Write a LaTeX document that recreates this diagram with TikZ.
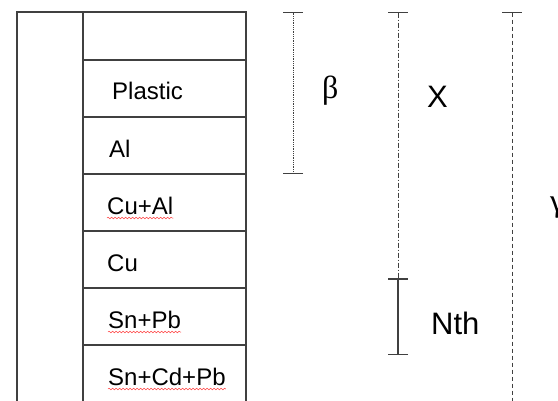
\documentclass[tikz,border=0pt]{standalone}
\usepackage{fontspec}
\setmainfont{Liberation Sans}
\newfontfamily\greekfont{Liberation Serif}
\usetikzlibrary{arrows.meta,decorations.pathmorphing}
\begin{document}
\begin{tikzpicture}[x=1pt, y=-1pt,
  layer/.style={anchor=base west, inner sep=0pt, font=\fontsize{24}{24}\selectfont},
  big/.style={anchor=base west, inner sep=0pt, font=\fontsize{31}{31}\selectfont},
  greek/.style={anchor=base west, inner sep=0pt, font=\greekfont\fontsize{32}{32}\selectfont},
  wall/.style={draw=black!75, line width=1.2pt},
  bar/.style={draw=black!75, line width=0.8pt, {Bar[width=20pt]}-{Bar[width=20pt]}},
  typo/.style={draw=red!75, line width=0.5pt, decorate,
    decoration={snake, amplitude=0.8pt, segment length=3.5pt}}]
\useasboundingbox (0,0) rectangle (558,400);
\clip (0,0) rectangle (558,400);
% stack
\draw[wall] (17,410)--(17,12)--(246,12)--(246,410);
\draw[wall] (83,12)--(83,410);
\foreach \y in {60,117,174,231,288,345}
{
    \draw[wall] (83,\y)--(246,\y);
}
\node[layer] (plastic) at (112,99){Plastic};
\node[layer] (al) at (109,157){Al};
\node[layer] (cual) at (107,214){Cu+Al};
\node[layer] (cu) at (107,271){Cu};
\node[layer] (snpb) at (108,328){Sn+Pb};
\node[layer] (sncdpb) at (108,385){Sn+Cd+Pb};
\draw[typo] ([yshift=-4pt]cual.base west)--([yshift=-4pt]cual.base east);
\draw[typo] ([yshift=-4pt]snpb.base west)--([yshift=-4pt]snpb.base east);
\draw[typo] ([yshift=-4pt]sncdpb.base west)--([yshift=-4pt]sncdpb.base east);
% ranges
\coordinate (btop) at (293,12);
\coordinate (bbot) at (293,174);
\coordinate (xtop) at (398,12);
\coordinate (xbot) at (398,279);
\coordinate (nbot) at (398,355);
\coordinate (gtop) at (512,12);
\coordinate (gbot) at (512,420);
\draw[bar, densely dotted] (btop)--(bbot);
\draw[bar, dash pattern=on 5pt off 2pt on 1pt off 2pt] (xtop)--(xbot);
\draw[bar, line width=1.2pt] (xbot)--(nbot);
\draw[bar, dash pattern=on 4pt off 3pt] (gtop)--(gbot);
\node[greek] (beta) at (322,98){β};
\node[big] (xlab) at (427,107){X};
\node[big] (nth) at (431,334){Nth};
\node[greek] (gamma) at (550,211){γ};
\end{tikzpicture}
\end{document}
